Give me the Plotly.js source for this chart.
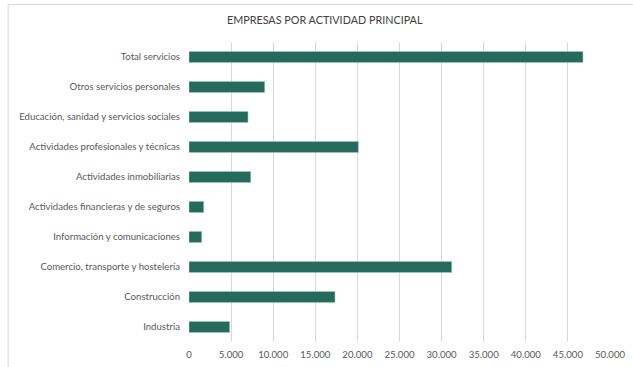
<!DOCTYPE html>
<html>
<head>
<meta charset="utf-8">
<script src="https://cdn.plot.ly/plotly-3.0.1.min.js"></script>
<style>
  html, body { margin: 0; padding: 0; background: #fff; }
  #chart { width: 633px; height: 367px; }
</style>
</head>
<body>
<div id="chart"></div>
<script>
// Categories (top to bottom as in the reference)
const categories = [
  "Total servicios",
  "Otros servicios personales",
  "Educación, sanidad y servicios sociales",
  "Actividades profesionales y técnicas",
  "Actividades inmobiliarias",
  "Actividades financieras y de seguros",
  "Información y comunicaciones",
  "Comercio, transporte y hostelería",
  "Construcción",
  "Industria"
];
// Number of companies
const empresas = [46790, 8990, 7010, 20120, 7330, 1750, 1510, 31200, 17340, 4830];
const xTickVals = [0, 5000, 10000, 15000, 20000, 25000, 30000, 35000, 40000, 45000, 50000];
const chartTitle = "EMPRESAS POR ACTIVIDAD PRINCIPAL";

const labelFont = { family: "Lato, 'Open Sans', sans-serif", size: 9.6, color: "#595959" };

const trace = {
  type: "bar",
  orientation: "h",
  y: categories,
  x: empresas,
  marker: { color: "#246B5B", line: { color: "#a8cabe", width: 0.6 } },
  hoverinfo: "x+y"
};

const L = 189.3, R = 610.3, T = 42, B = 342;
const W = 633, H = 367;
const px2x = p => (p - L) / (R - L);
const px2y = p => (B - p) / (B - T);

const layout = {
  width: W, height: H,
  margin: { l: L, r: W - R, t: T, b: H - B, pad: 0 },
  paper_bgcolor: "#ffffff",
  plot_bgcolor: "#ffffff",
  separators: ",.",
  showlegend: false,
  bargap: 0.63,
  title: {
    text: chartTitle,
    font: { family: "Lato, 'Open Sans', sans-serif", size: 10.8, color: "#404040" },
    x: px2x(325),
    xanchor: "center",
    xref: "paper",
    y: 1 - 20 / H,
    yref: "container",
    yanchor: "middle"
  },
  xaxis: {
    range: [0, 50000],
    tickvals: xTickVals,
    tickformat: ",d",
    showgrid: true,
    gridcolor: "#d9d9d9",
    gridwidth: 1,
    zeroline: false,
    showline: false,
    ticks: "",
    ticklabelstandoff: 5,
    tickfont: labelFont,
    fixedrange: true
  },
  yaxis: {
    type: "category",
    autorange: "reversed",
    showgrid: false,
    zeroline: false,
    showline: false,
    ticks: "",
    ticklabelstandoff: 8,
    tickfont: labelFont,
    fixedrange: true
  },
  shapes: [
    { type: "line", xref: "paper", yref: "paper",
      x0: px2x(8.5), x1: px2x(633), y0: px2y(4.5), y1: px2y(4.5),
      line: { color: "#d9d9d9", width: 1 } },
    { type: "line", xref: "paper", yref: "paper",
      x0: px2x(8.5), x1: px2x(8.5), y0: px2y(4.5), y1: px2y(367),
      line: { color: "#d9d9d9", width: 1 } }
  ]
};

Plotly.newPlot("chart", [trace], layout, { displayModeBar: false, staticPlot: true });
</script>
</body>
</html>
